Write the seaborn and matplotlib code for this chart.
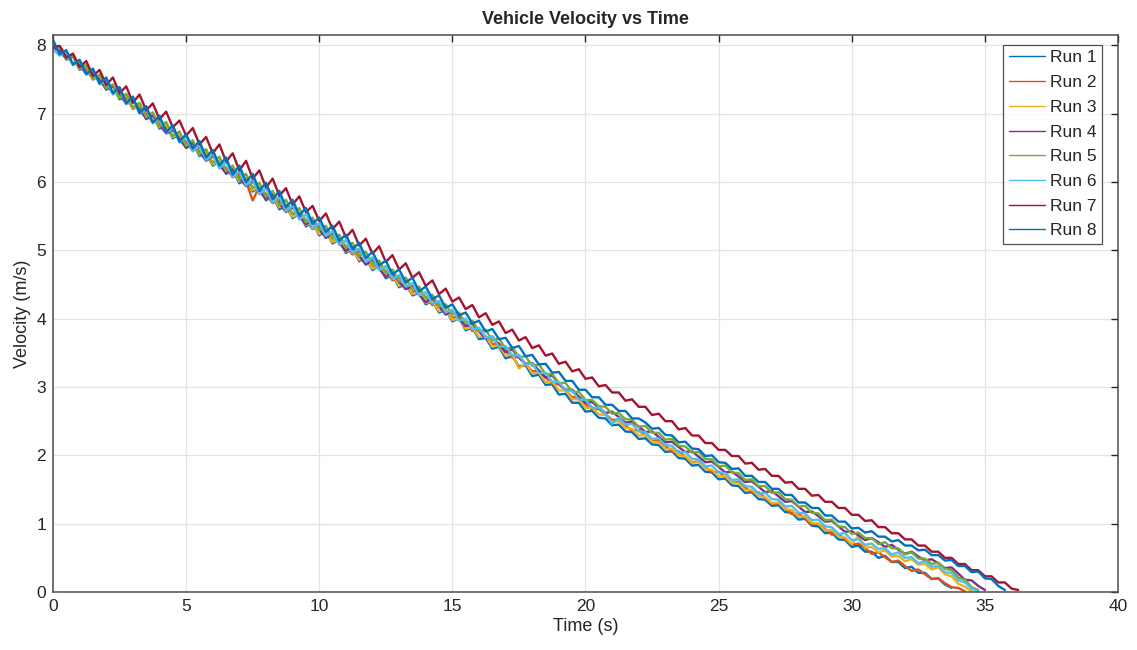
import numpy as np
import pandas as pd
import seaborn as sns
import matplotlib.pyplot as plt

# Velocity samples, one value every 0.25 s from t = 0
SAMPLE_STEP = 0.25

run_1 = [7.93, 7.99, 7.79, 7.84, 7.64, 7.70, 7.50, 7.56, 7.35, 7.41, 7.21, 7.27, 7.07, 7.13, 6.92, 6.98, 6.78, 6.84, 6.64, 6.70, 6.50,
         6.57, 6.38, 6.43, 6.24, 6.31, 6.12, 6.18, 5.98, 6.05, 5.86, 5.92, 5.73, 5.80, 5.60, 5.66, 5.47, 5.54, 5.35, 5.41, 5.22,
         5.29, 5.10, 5.16, 4.96, 5.03, 4.84, 4.90, 4.71, 4.78, 4.59, 4.64, 4.46, 4.51, 4.34, 4.38, 4.21, 4.26, 4.09, 4.13, 3.96,
         4.01, 3.83, 3.87, 3.70, 3.72, 3.56, 3.59, 3.42, 3.45, 3.30, 3.32, 3.16, 3.18, 3.03, 3.04, 2.89, 2.90, 2.77, 2.77, 2.64,
         2.65, 2.55, 2.54, 2.44, 2.45, 2.35, 2.34, 2.24, 2.25, 2.16, 2.15, 2.05, 2.06, 1.96, 1.95, 1.85, 1.86, 1.76, 1.75, 1.65,
         1.66, 1.56, 1.55, 1.45, 1.46, 1.36, 1.35, 1.26, 1.27, 1.17, 1.16, 1.06, 1.07, 0.97, 0.96, 0.86, 0.87, 0.77, 0.76, 0.66,
         0.68, 0.59, 0.59, 0.50, 0.53, 0.44, 0.44, 0.35, 0.37, 0.28, 0.28, 0.19, 0.20, 0.11, 0.06]

run_2 = [7.98, 7.98, 7.86, 7.73, 7.76, 7.64, 7.51, 7.55, 7.43, 7.30, 7.34, 7.22, 7.08, 7.12, 7.00, 6.87, 6.91, 6.79, 6.66, 6.70, 6.58,
         6.46, 6.51, 6.39, 6.27, 6.31, 6.20, 6.07, 6.12, 6.01, 5.73, 5.93, 5.82, 5.69, 5.74, 5.62, 5.50, 5.55, 5.44, 5.31, 5.36,
         5.25, 5.13, 5.17, 5.06, 4.94, 4.99, 4.87, 4.75, 4.80, 4.69, 4.56, 4.61, 4.50, 4.39, 4.42, 4.31, 4.20, 4.23, 4.12, 4.01,
         4.04, 3.93, 3.82, 3.84, 3.74, 3.63, 3.64, 3.53, 3.43, 3.44, 3.34, 3.23, 3.24, 3.14, 3.05, 3.04, 2.95, 2.85, 2.85, 2.75,
         2.67, 2.68, 2.60, 2.52, 2.52, 2.44, 2.36, 2.37, 2.29, 2.21, 2.22, 2.14, 2.05, 2.06, 1.98, 1.90, 1.91, 1.83, 1.75, 1.76,
         1.68, 1.60, 1.61, 1.53, 1.45, 1.46, 1.38, 1.29, 1.30, 1.22, 1.14, 1.15, 1.07, 0.99, 1.00, 0.92, 0.84, 0.85, 0.77, 0.69,
         0.71, 0.64, 0.56, 0.58, 0.51, 0.44, 0.46, 0.38, 0.31, 0.33, 0.26, 0.19, 0.20, 0.13, 0.07, 0.06, 0.01]

run_3 = [7.95, 7.98, 7.80, 7.84, 7.65, 7.69, 7.51, 7.55, 7.37, 7.41, 7.23, 7.27, 7.08, 7.12, 6.94, 6.98, 6.80, 6.84, 6.66, 6.70, 6.52,
         6.57, 6.40, 6.43, 6.26, 6.31, 6.14, 6.18, 6.01, 6.05, 5.88, 5.92, 5.75, 5.80, 5.63, 5.66, 5.49, 5.54, 5.37, 5.41, 5.24,
         5.29, 5.12, 5.16, 4.98, 5.03, 4.86, 4.90, 4.73, 4.78, 4.61, 4.65, 4.48, 4.52, 4.36, 4.39, 4.23, 4.26, 4.11, 4.13, 3.98,
         4.01, 3.85, 3.88, 3.73, 3.75, 3.59, 3.61, 3.46, 3.48, 3.27, 3.35, 3.20, 3.21, 3.07, 3.08, 2.95, 2.95, 2.82, 2.82, 2.69,
         2.70, 2.60, 2.59, 2.49, 2.50, 2.40, 2.39, 2.29, 2.30, 2.20, 2.19, 2.09, 2.10, 2.00, 1.99, 1.89, 1.90, 1.80, 1.79, 1.69,
         1.70, 1.60, 1.59, 1.49, 1.50, 1.40, 1.39, 1.30, 1.31, 1.21, 1.20, 1.10, 1.11, 1.01, 1.00, 0.90, 0.91, 0.81, 0.80, 0.70,
         0.82, 0.65, 0.66, 0.58, 0.61, 0.52, 0.53, 0.45, 0.48, 0.40, 0.41, 0.33, 0.36, 0.26, 0.23, 0.12, 0.08, 0.01]

run_4 = [7.97, 7.92, 7.80, 7.84, 7.70, 7.58, 7.62, 7.49, 7.36, 7.40, 7.27, 7.15, 7.19, 7.06, 6.93, 6.97, 6.84, 6.71, 6.76, 6.63, 6.50,
         6.57, 6.44, 6.31, 6.38, 6.25, 6.13, 6.19, 6.06, 5.94, 6.01, 5.87, 5.75, 5.82, 5.69, 5.56, 5.63, 5.50, 5.38, 5.44, 5.31,
         5.18, 5.25, 5.11, 4.99, 5.05, 4.92, 4.79, 4.86, 4.73, 4.61, 4.67, 4.54, 4.43, 4.48, 4.35, 4.24, 4.30, 4.18, 4.06, 4.12,
         4.00, 3.89, 3.93, 3.81, 3.71, 3.74, 3.62, 3.51, 3.55, 3.43, 3.34, 3.35, 3.24, 3.14, 3.17, 3.05, 2.96, 2.96, 2.86, 2.77,
         2.78, 2.70, 2.62, 2.64, 2.56, 2.48, 2.49, 2.42, 2.34, 2.35, 2.27, 2.19, 2.20, 2.12, 2.05, 2.06, 1.98, 1.90, 1.91, 1.83,
         1.75, 1.76, 1.69, 1.61, 1.62, 1.54, 1.46, 1.48, 1.40, 1.32, 1.33, 1.25, 1.17, 1.18, 1.11, 1.03, 1.04, 0.96, 0.88, 0.89,
         0.83, 0.76, 0.79, 0.73, 0.66, 0.69, 0.62, 0.56, 0.59, 0.52, 0.46, 0.48, 0.42, 0.35, 0.36, 0.27, 0.18, 0.17, 0.09, 0.03]

run_5 = [7.98, 7.99, 7.80, 7.85, 7.66, 7.71, 7.51, 7.57, 7.37, 7.43, 7.23, 7.29, 7.09, 7.16, 6.95, 7.02, 6.81, 6.88, 6.67, 6.74, 6.53,
         6.61, 6.41, 6.48, 6.28, 6.37, 6.16, 6.24, 6.03, 6.12, 5.91, 5.99, 5.78, 5.87, 5.66, 5.74, 5.53, 5.62, 5.41, 5.48, 5.29,
         5.36, 5.17, 5.23, 5.04, 5.11, 4.92, 4.98, 4.79, 4.85, 4.67, 4.72, 4.55, 4.60, 4.43, 4.47, 4.30, 4.35, 4.18, 4.21, 4.06,
         4.09, 3.93, 3.97, 3.81, 3.84, 3.68, 3.71, 3.56, 3.58, 3.44, 3.45, 3.31, 3.33, 3.19, 3.19, 3.06, 3.06, 2.93, 2.93, 2.81,
         2.81, 2.72, 2.71, 2.61, 2.62, 2.53, 2.52, 2.42, 2.43, 2.33, 2.33, 2.23, 2.24, 2.14, 2.13, 2.04, 2.05, 1.95, 1.94, 1.84,
         1.85, 1.75, 1.74, 1.64, 1.65, 1.55, 1.55, 1.45, 1.46, 1.36, 1.35, 1.25, 1.26, 1.16, 1.15, 1.05, 1.06, 0.96, 0.95, 0.85,
         0.87, 0.79, 0.79, 0.70, 0.73, 0.64, 0.64, 0.55, 0.58, 0.49, 0.49, 0.41, 0.43, 0.34, 0.32, 0.21, 0.18, 0.07, 0.03]

run_6 = [7.94, 7.85, 7.90, 7.71, 7.76, 7.57, 7.63, 7.43, 7.49, 7.28, 7.35, 7.14, 7.21, 7.00, 7.08, 6.86, 6.94, 6.72, 6.80, 6.58, 6.66,
         6.45, 6.54, 6.32, 6.41, 6.20, 6.29, 6.07, 6.16, 5.95, 6.04, 5.82, 5.91, 5.70, 5.79, 5.57, 5.66, 5.45, 5.53, 5.32, 5.40,
         5.21, 5.28, 5.08, 5.15, 4.96, 5.03, 4.83, 4.90, 4.71, 4.77, 4.58, 4.64, 4.47, 4.52, 4.34, 4.39, 4.22, 4.26, 4.09, 4.13,
         3.97, 4.00, 3.84, 3.87, 3.72, 3.74, 3.59, 3.60, 3.46, 3.47, 3.33, 3.34, 3.20, 3.21, 3.08, 3.07, 2.95, 2.94, 2.82, 2.81,
         2.70, 2.70, 2.61, 2.46, 2.55, 2.45, 2.46, 2.35, 2.34, 2.24, 2.25, 2.15, 2.14, 2.04, 2.05, 1.95, 1.94, 1.84, 1.85, 1.75,
         1.74, 1.64, 1.65, 1.55, 1.54, 1.44, 1.45, 1.36, 1.35, 1.25, 1.26, 1.16, 1.15, 1.05, 1.06, 0.96, 0.95, 0.85, 0.86, 0.76,
         0.77, 0.69, 0.71, 0.63, 0.64, 0.55, 0.58, 0.50, 0.51, 0.42, 0.45, 0.37, 0.38, 0.29, 0.28, 0.17, 0.14, 0.05, 0.01]

run_7 = [7.98, 7.99, 7.82, 7.88, 7.68, 7.77, 7.55, 7.64, 7.42, 7.53, 7.30, 7.40, 7.16, 7.28, 7.05, 7.15, 6.92, 7.03, 6.80, 6.90, 6.68,
         6.79, 6.55, 6.66, 6.42, 6.55, 6.30, 6.42, 6.17, 6.31, 6.05, 6.17, 5.92, 6.05, 5.80, 5.91, 5.67, 5.79, 5.56, 5.65, 5.43,
         5.54, 5.31, 5.42, 5.19, 5.30, 5.07, 5.17, 4.95, 5.06, 4.83, 4.93, 4.72, 4.81, 4.60, 4.68, 4.48, 4.56, 4.36, 4.44, 4.25,
         4.31, 4.14, 4.20, 4.02, 4.08, 3.91, 3.96, 3.79, 3.84, 3.68, 3.73, 3.57, 3.61, 3.46, 3.49, 3.34, 3.37, 3.23, 3.26, 3.12,
         3.14, 3.01, 3.03, 2.92, 2.92, 2.80, 2.82, 2.71, 2.71, 2.59, 2.61, 2.50, 2.50, 2.38, 2.40, 2.29, 2.29, 2.18, 2.18, 2.08,
         2.08, 1.99, 1.99, 1.88, 1.89, 1.79, 1.80, 1.70, 1.70, 1.60, 1.61, 1.51, 1.51, 1.41, 1.42, 1.32, 1.32, 1.23, 1.23, 1.13,
         1.13, 1.04, 1.05, 0.95, 0.95, 0.86, 0.86, 0.77, 0.77, 0.68, 0.68, 0.59, 0.59, 0.50, 0.50, 0.41, 0.41, 0.32, 0.32, 0.23,
         0.23, 0.14, 0.14, 0.05, 0.03]

run_8 = [8.08, 7.87, 7.93, 7.72, 7.79, 7.58, 7.66, 7.44, 7.53, 7.30, 7.39, 7.15, 7.25, 7.01, 7.11, 6.87, 6.97, 6.73, 6.83, 6.59, 6.70,
         6.49, 6.60, 6.36, 6.47, 6.24, 6.36, 6.11, 6.24, 6.00, 6.12, 5.87, 5.99, 5.75, 5.87, 5.63, 5.74, 5.51, 5.62, 5.39, 5.48,
         5.27, 5.36, 5.14, 5.23, 5.02, 5.11, 4.89, 4.98, 4.78, 4.85, 4.65, 4.72, 4.53, 4.60, 4.40, 4.47, 4.29, 4.34, 4.16, 4.21,
         4.05, 4.09, 3.93, 3.97, 3.81, 3.85, 3.70, 3.72, 3.57, 3.60, 3.45, 3.47, 3.33, 3.34, 3.21, 3.22, 3.09, 3.09, 2.96, 2.96,
         2.85, 2.85, 2.74, 2.74, 2.65, 2.65, 2.54, 2.54, 2.48, 2.39, 2.40, 2.30, 2.29, 2.19, 2.20, 2.10, 2.09, 1.99, 2.00, 1.90,
         1.89, 1.80, 1.81, 1.70, 1.70, 1.61, 1.61, 1.51, 1.51, 1.42, 1.42, 1.31, 1.31, 1.23, 1.23, 1.12, 1.12, 1.03, 1.03, 0.93,
         0.94, 0.87, 0.89, 0.81, 0.81, 0.74, 0.76, 0.68, 0.68, 0.61, 0.62, 0.54, 0.54, 0.46, 0.47, 0.38, 0.38, 0.29, 0.30, 0.20,
         0.19, 0.09, 0.03]

run_names = ['Run 1', 'Run 2', 'Run 3', 'Run 4', 'Run 5', 'Run 6', 'Run 7', 'Run 8']
runs = [run_1, run_2, run_3, run_4, run_5, run_6, run_7, run_8]
# MATLAB default line colour order (cycles back to blue for Run 8)
run_colors = ['#0072BD', '#D95319', '#EDB120', '#7E2F8E', '#77AC30', '#4DBEEE', '#A2142F', '#0072BD']

# long-form table for seaborn
frames = []
for name, vals in zip(run_names, runs):
    frames.append(pd.DataFrame({'Time': np.arange(len(vals)) * SAMPLE_STEP,
                                'Velocity': vals,
                                'Run': name}))
df = pd.concat(frames, ignore_index=True)

sns.set_style('white')
plt.rcParams['font.family'] = ['Liberation Sans', 'DejaVu Sans']

fig = plt.figure(figsize=(11.37, 6.5), dpi=100)
ax = fig.add_axes([0.0466, 0.0892, 0.9367, 0.8568])

sns.lineplot(data=df, x='Time', y='Velocity', hue='Run', hue_order=run_names,
             palette=run_colors, estimator=None, sort=False, linewidth=1.7, ax=ax)

ax.set_xlim(0, 40)
ax.set_ylim(0, 8.15)
ax.set_xticks(range(0, 41, 5))
ax.set_yticks(range(0, 9))
ax.grid(True, color='#e3e3e3', linewidth=0.9)
ax.set_axisbelow(True)
ax.tick_params(direction='in', length=5, top=True, right=True,
               labelsize=12.5, colors='#262626', width=1.0, pad=5)
for side in ax.spines.values():
    side.set_color('#4d4d4d')
    side.set_linewidth(1.1)

ax.set_title('Vehicle Velocity vs Time', fontsize=13, fontweight='bold', pad=8)
ax.set_xlabel('Time (s)', fontsize=13, color='#262626', labelpad=3)
ax.set_ylabel('Velocity (m/s)', fontsize=13, color='#262626', labelpad=4)

leg = ax.legend(loc='upper right', bbox_to_anchor=(0.985, 0.982), borderaxespad=0,
                frameon=True, fancybox=False, edgecolor='#262626', fontsize=12.5,
                handlelength=2.1, handletextpad=0.3, borderpad=0.3, labelspacing=0.55)
leg.get_frame().set_linewidth(0.9)
for line in leg.get_lines():
    line.set_linewidth(1.0)

plt.savefig('out.png', dpi=100)
